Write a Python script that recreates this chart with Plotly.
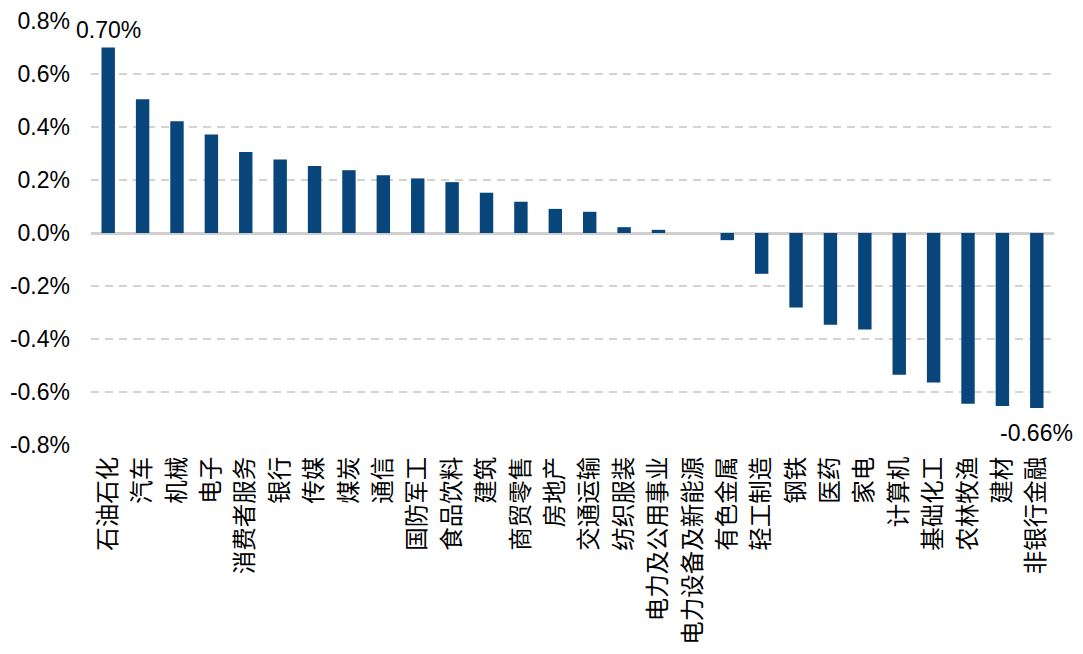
import plotly.graph_objects as go

categories = ["石油石化", "汽车", "机械", "电子", "消费者服务", "银行", "传媒", "煤炭", "通信",
              "国防军工", "食品饮料", "建筑", "商贸零售", "房地产", "交通运输", "纺织服装",
              "电力及公用事业", "电力设备及新能源", "有色金属", "轻工制造", "钢铁", "医药", "家电",
              "计算机", "基础化工", "农林牧渔", "建材", "非银行金融"]
values = [0.70, 0.505, 0.422, 0.372, 0.306, 0.277, 0.253, 0.237, 0.218,
          0.206, 0.192, 0.152, 0.118, 0.091, 0.080, 0.022,
          0.012, 0.0, -0.027, -0.154, -0.281, -0.346, -0.364,
          -0.535, -0.564, -0.644, -0.653, -0.66]
tick_vals = [-0.8, -0.6, -0.4, -0.2, 0.0, 0.2, 0.4, 0.6, 0.8]
tick_text = ["-0.8%", "-0.6%", "-0.4%", "-0.2%", "0.0%", "0.2%", "0.4%", "0.6%", "0.8%"]

BAR = "#08457B"
FONT = "Liberation Sans, Arial, Noto Sans CJK SC, sans-serif"

fig = go.Figure(go.Bar(x=categories, y=values, marker=dict(color=BAR, line=dict(width=0))))

fig.add_annotation(x=categories[0], y=values[0], text="0.70%", showarrow=False,
                   yanchor="bottom", yshift=3, font=dict(size=23, color="black", family=FONT))
fig.add_annotation(x=categories[-1], y=values[-1], text="-0.66%", showarrow=False,
                   yanchor="top", yshift=-10, font=dict(size=23, color="black", family=FONT))

fig.update_layout(
    width=1083, height=654,
    margin=dict(l=91, r=29, t=21, b=209),
    plot_bgcolor="white", paper_bgcolor="white",
    bargap=0.61,
    showlegend=False,
    font=dict(family=FONT, size=23, color="black"),
)
fig.update_xaxes(tickangle=-90, showgrid=False, showline=False, ticks="", automargin=False,
                 range=[-0.5, len(categories) - 0.5],
                 tickfont=dict(size=23.5, color="black", family="Noto Sans CJK SC, sans-serif"),
                 ticklabelstandoff=6)
fig.update_yaxes(range=[-0.8, 0.8], tickvals=tick_vals, ticktext=tick_text, automargin=False,
                 showgrid=True, gridcolor="#d3d3d3", gridwidth=1.5, griddash="8px,6px",
                 zeroline=True, zerolinecolor="#cfcfcf", zerolinewidth=2.5,
                 showline=False, ticks="", ticklabelstandoff=20,
                 tickfont=dict(size=23, color="black", family=FONT))

fig.write_html("out.html", config={"displayModeBar": False},
               post_script="document.body.style.margin='0';document.body.style.overflow='hidden';")
